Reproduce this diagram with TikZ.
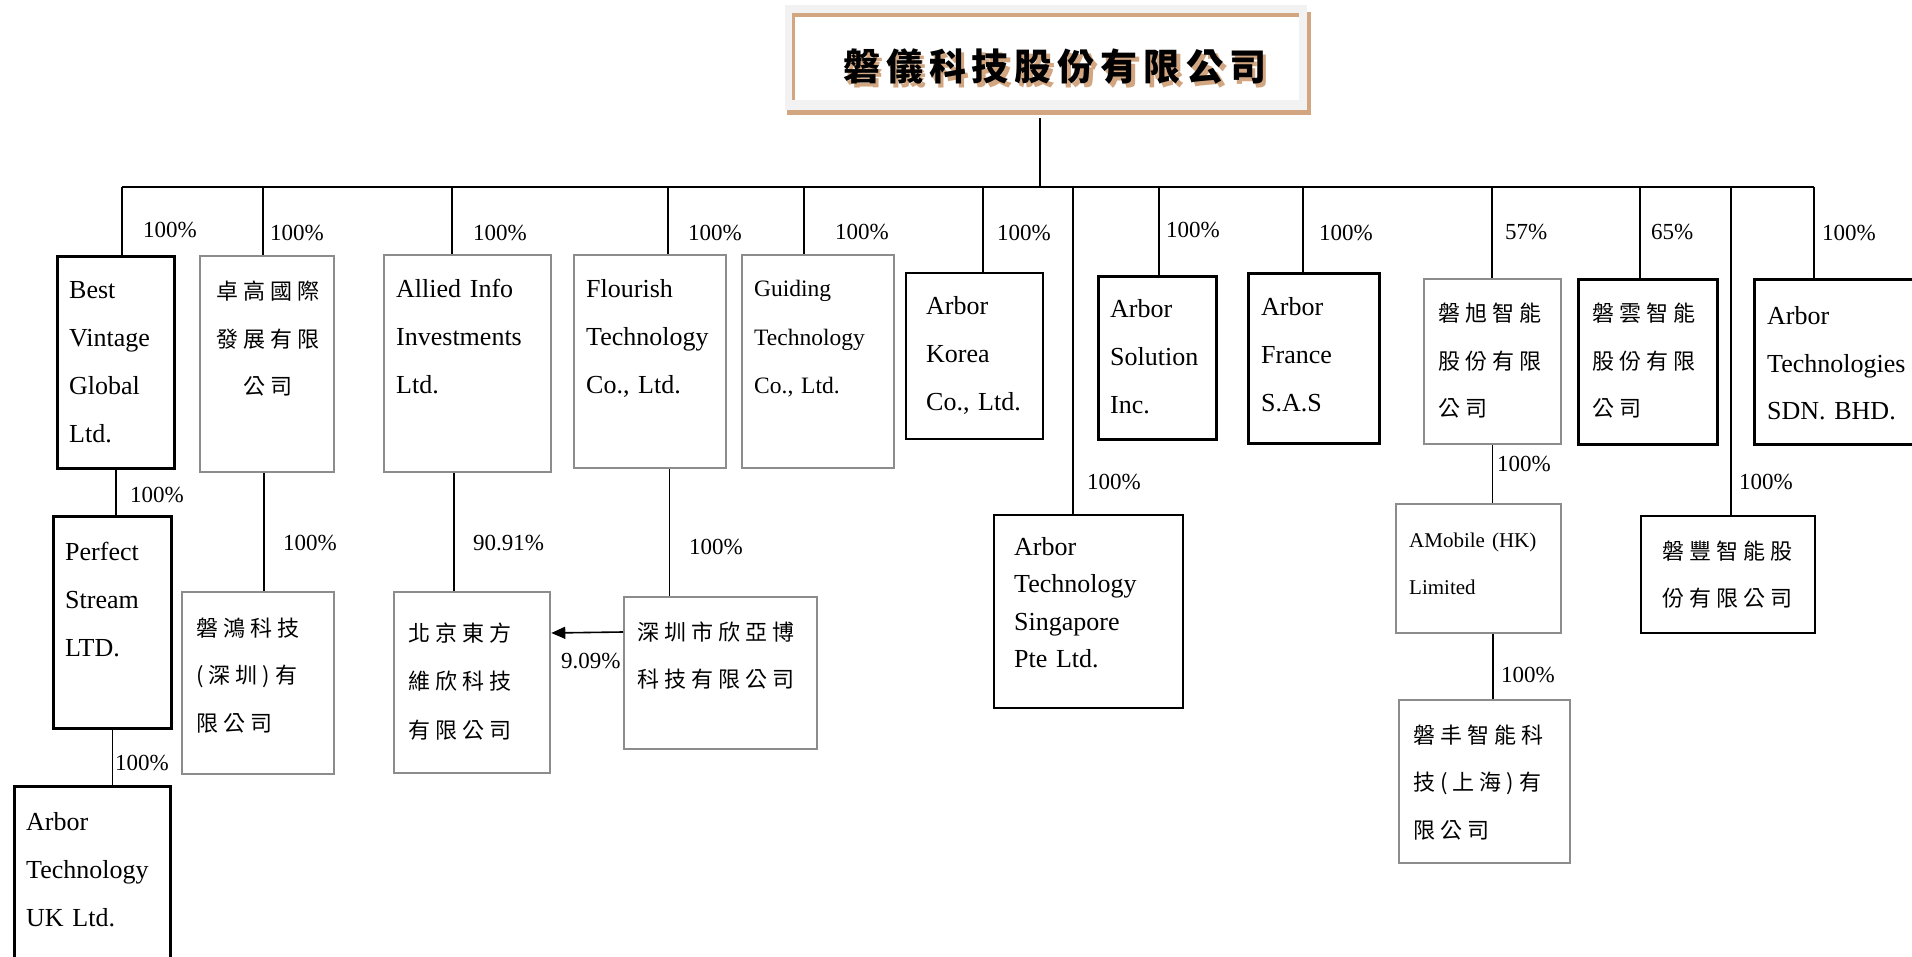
\documentclass[tikz,border=0pt]{standalone}
\usepackage{fontspec}
\setmainfont{Liberation Serif}
\newfontfamily\cjk{Noto Sans CJK TC}[LetterSpace=23]
\newfontfamily\cjktitle{Noto Sans CJK TC}[LetterSpace=16]
\usetikzlibrary{arrows.meta}
\definecolor{titletan}{RGB}{210,166,128}
\definecolor{boxgray}{RGB}{140,140,140}
\definecolor{framegray}{RGB}{242,242,242}
\tikzset{
  co/.style={draw=black, line width=1.6pt},
  bbox/.style={draw=black, line width=2.8pt, rectangle, inner sep=0pt, anchor=north west},
  mbox/.style={draw=black, line width=2pt, rectangle, inner sep=0pt, anchor=north west},
  tbox/.style={draw=black, line width=1.6pt, rectangle, inner sep=0pt, anchor=north west},
  gbox/.style={draw=boxgray, line width=2.3pt, rectangle, inner sep=0pt, anchor=north west},
  lat/.style={anchor=base west, inner sep=0pt, align=left, text width=220pt, font=\fontsize{26}{48}\selectfont},
  zh/.style={anchor=base west, inner sep=0pt, align=left, text width=220pt, font=\cjk\fontsize{22}{47.5}\selectfont},
  pct/.style={anchor=west, inner sep=0pt, font=\fontsize{23}{23}\selectfont},
}
\begin{document}
\begin{tikzpicture}[x=1pt,y=-1pt]
\useasboundingbox (0,0) rectangle (1912,957);
\fill[white] (0,0) rectangle (1912,957);
% title frame
\fill[titletan] (787,12) rectangle (1311,115);
\node[fill=framegray, minimum width=522pt, minimum height=105pt, inner sep=0pt, anchor=north west] (title) at (785,5) {};
\fill[white] (793,15) rectangle (1299,100);
\fill[titletan] (793,13) rectangle (1299,17);
\fill[titletan] (792,13) rectangle (794.5,100);
\node[anchor=base west, inner sep=0pt, text=titletan, font=\cjktitle\bfseries\fontsize{37}{37}\selectfont] (titleshadow) at (846.5,84.5) {磐儀科技股份有限公司};
\node[anchor=base west, inner sep=0pt, text=black, font=\cjktitle\bfseries\fontsize{37}{37}\selectfont] (titletext) at (843,81) {磐儀科技股份有限公司};
% bus
\coordinate (tb) at (1040,118);
\coordinate (busL) at (122,187);
\coordinate (busR) at (1814,187);
\draw[co] (tb) -- (tb |- busL);
\draw[co] (busL) -- (busR);
% boxes
\node[bbox, minimum width=117pt, minimum height=212pt] (bv) at (56,255) {};
\node[gbox, minimum width=134pt, minimum height=216pt] (zg) at (199,255) {};
\node[gbox, minimum width=167pt, minimum height=217pt] (ai) at (383,254) {};
\node[gbox, minimum width=152pt, minimum height=213pt] (fl) at (573,254) {};
\node[gbox, minimum width=152pt, minimum height=213pt] (gd) at (741,254) {};
\node[tbox, minimum width=137pt, minimum height=166pt] (ko) at (905,272) {};
\node[mbox, minimum width=189pt, minimum height=193pt] (sg) at (993,514) {};
\node[bbox, minimum width=118pt, minimum height=163pt] (so) at (1097,275) {};
\node[bbox, minimum width=131pt, minimum height=170pt] (fr) at (1247,272) {};
\node[gbox, minimum width=137pt, minimum height=165pt] (xu) at (1423,278) {};
\node[bbox, minimum width=139pt, minimum height=165pt] (yun) at (1577,278) {};
\node[bbox, minimum width=163pt, minimum height=165pt] (sdn) at (1753,278) {};
\node[mbox, minimum width=174pt, minimum height=117pt] (feng) at (1640,515) {};
\node[gbox, minimum width=165pt, minimum height=129pt] (am) at (1395,503) {};
\node[gbox, minimum width=171pt, minimum height=163pt] (fsh) at (1398,699) {};
\node[bbox, minimum width=118pt, minimum height=212pt] (ps) at (52,515) {};
\node[bbox, minimum width=156pt, minimum height=180pt] (uk) at (13,785) {};
\node[gbox, minimum width=152pt, minimum height=182pt] (hong) at (181,591) {};
\node[gbox, minimum width=156pt, minimum height=181pt] (bj) at (393,591) {};
\node[gbox, minimum width=193pt, minimum height=152pt] (sz) at (623,596) {};
% box texts
\node[lat] (bvt) at (69,299) {Best\\Vintage\\Global\\Ltd.};
\node[zh, align=center, text width=134pt, anchor=base] (zgt) at (268,300) {卓高國際\\發展有限\\公司};
\node[lat] (ait) at (396,298) {Allied Info\\Investments\\Ltd.};
\node[lat] (flt) at (586,298) {Flourish\\Technology\\Co., Ltd.};
\node[lat, font=\fontsize{23.5}{48.5}\selectfont] (gdt) at (754,297) {Guiding\\Technology\\Co., Ltd.};
\node[lat] (kot) at (926,315) {Arbor\\Korea\\Co., Ltd.};
\node[lat, font=\fontsize{26}{37.5}\selectfont] (sgt) at (1014,555) {Arbor\\Technology\\Singapore\\Pte Ltd.};
\node[lat] (sot) at (1110,318) {Arbor\\Solution\\Inc.};
\node[lat] (frt) at (1261,316) {Arbor\\France\\S.A.S};
\node[zh, font=\cjk\fontsize{22}{47.5}\selectfont] (xut) at (1438,322) {磐旭智能\\股份有限\\公司};
\node[zh, font=\cjk\fontsize{22}{47.5}\selectfont] (yunt) at (1592,322) {磐雲智能\\股份有限\\公司};
\node[lat, font=\fontsize{26}{47.5}\selectfont] (sdnt) at (1767,325) {Arbor\\Technologies\\SDN. BHD.};
\node[zh, font=\cjk\fontsize{22}{47}\selectfont] (fengt) at (1662,559) {磐豐智能股\\份有限公司};
\node[lat, font=\fontsize{21}{47}\selectfont] (amt) at (1409,547) {AMobile (HK)\\Limited};
\node[zh, font=\cjk\fontsize{22}{47.5}\selectfont] (fsht) at (1413,743) {磐丰智能科\\技(上海)有\\限公司};
\node[lat] (pst) at (65,560) {Perfect\\Stream\\LTD.};
\node[lat] (ukt) at (26,830) {Arbor\\Technology\\UK Ltd.};
\node[zh] (hongt) at (196,636) {磐鴻科技\\(深圳)有\\限公司};
\node[zh, font=\cjk\fontsize{22}{48.5}\selectfont] (bjt) at (408,641) {北京東方\\維欣科技\\有限公司};
\node[zh] (szt) at (637,640) {深圳市欣亞博\\科技有限公司};
% verticals from the bus
\foreach \n/\x in {bv/122, zg/263, ai/452, fl/668, gd/804, ko/983, sg/1073, so/1159, fr/1303, xu/1492, yun/1640, feng/1731, sdn/1814}{
  \coordinate (top\n) at (\x,187);
  \draw[co] (top\n) -- (top\n |- \n.north);
}
% lower connectors
\draw[co] (bv.south) -- (bv.south |- ps.north);
\draw[co] (ps.south) -- (ps.south |- uk.north);
\draw[co] ([xshift=-3pt]zg.south) -- ([xshift=-3pt]zg.south |- hong.north);
\draw[co] ([xshift=-13.5pt]ai.south) -- ([xshift=-13.5pt]ai.south |- bj.north);
\draw[co] ([xshift=19.5pt]fl.south) -- ([xshift=19.5pt]fl.south |- sz.north);
\draw[co] (xu.south) -- (xu.south |- am.north);
\draw[co] ([xshift=14.5pt]am.south) -- ([xshift=14.5pt]am.south |- fsh.north);
\draw[co, -{Triangle[length=14pt,width=12pt]}] (sz.west |- 0,632) -- (bj.east |- 0,633);
% percentages
\node[pct] (p1) at (143,230) {100\%};
\node[pct] (p2) at (270,233) {100\%};
\node[pct] (p3) at (473,233) {100\%};
\node[pct] (p4) at (688,233) {100\%};
\node[pct] (p5) at (835,232) {100\%};
\node[pct] (p6) at (997,233) {100\%};
\node[pct] (p7) at (1087,482) {100\%};
\node[pct] (p8) at (1166,230) {100\%};
\node[pct] (p9) at (1319,233) {100\%};
\node[pct] (p10) at (1505,232) {57\%};
\node[pct] (p11) at (1651,232) {65\%};
\node[pct] (p12) at (1822,233) {100\%};
\node[pct] (p13) at (1739,482) {100\%};
\node[pct] (p14) at (1497,464) {100\%};
\node[pct] (p15) at (1501,675) {100\%};
\node[pct] (p16) at (130,495) {100\%};
\node[pct] (p17) at (115,763) {100\%};
\node[pct] (p18) at (283,543) {100\%};
\node[pct] (p19) at (473,543) {90.91\%};
\node[pct] (p20) at (689,547) {100\%};
\node[pct] (p21) at (561,661) {9.09\%};
\end{tikzpicture}
\end{document}
